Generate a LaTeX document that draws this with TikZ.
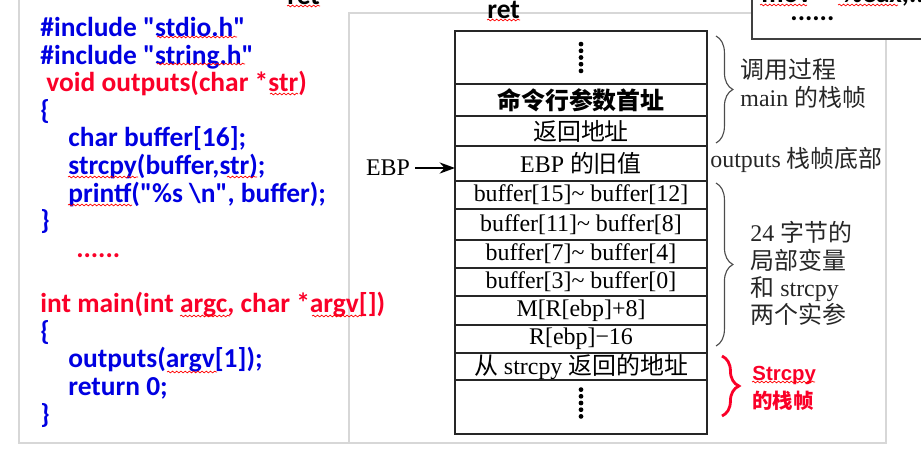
\documentclass[tikz,border=0pt]{standalone}
\usepackage{fontspec}
\setmainfont{Liberation Serif}
\newfontfamily\cjk{Noto Sans CJK SC}
\newfontfamily\codefont{Carlito}
\newfontfamily\sansfont{Liberation Sans}
\usetikzlibrary{arrows,arrows.meta,positioning,calc,decorations.pathreplacing,decorations.pathmorphing}
\definecolor{codeblue}{RGB}{0,0,225}
\definecolor{codered}{RGB}{250,0,40}
\definecolor{panel}{RGB}{215,215,215}
\newcommand{\px}{0.025cm}
\newcommand{\ind}{\hspace*{19.9pt}}

\begin{document}
\begin{tikzpicture}[x=\px,y=-\px,>={Stealth[length=11pt,width=8pt]},semithick]
		\tikzstyle{cell}=[draw=black!85,line width=1pt,minimum width=252*\px,inner sep=0pt,outer sep=0pt,font=\fontsize{17}{20}\selectfont]
		\tikzstyle{code}=[inner sep=0pt,align=left,text=codeblue,font=\codefont\bfseries\fontsize{19.5}{19.6}\selectfont]
		\tikzstyle{note}=[inner sep=0pt,align=left,text=black!85,font=\fontsize{17}{19.4}\selectfont]
		\tikzstyle{rednote}=[inner sep=0pt,align=left,text=codered,font=\sansfont\bfseries\fontsize{14.5}{19.8}\selectfont]
		\tikzstyle{frame brace}=[decorate,decoration={brace,amplitude=12pt},draw=black!70,line width=0.8pt]
		\tikzstyle{red brace}=[decorate,decoration={brace,amplitude=12pt},draw=codered,line width=2pt]
		\tikzstyle{wavy}=[draw=red,line width=0.5pt,decorate,decoration={snake,segment length=3pt,amplitude=0.6pt}]
		
		\useasboundingbox (0,0) rectangle (921,469);
		
		% panel edges
		\draw[panel,line width=0.8pt] (19,0) -- (19,443) -- (886,443) -- (886,39);
		\draw[panel,line width=0.8pt] (349,443) -- (349,13) -- (752,13);
		\draw[black!75,line width=1pt] (752,-5) -- (752,39) -- (925,39);
		
		% source code
		\node[code,anchor=north west] (head) at (40,17) {\#include "stdio.h"\\
			\#include "string.h"\\
			\hspace*{4.3pt}{\color{codered}void outputs(char *str)}\\
			\{\\
			\ind char buffer[16];\\
			\ind strcpy(buffer,str);\\
			\ind printf("\%s \textbackslash n", buffer);\\
			\}\\
			\hspace*{25.5pt}{\color{codered}......}};
		\node[code,anchor=north west] (mainfn) at (40,292) {{\color{codered}int main(int argc, char *argv[])}\\
			\{\\
			\ind outputs(argv[1]);\\
			\ind return 0;\\
			\}};
		
		\node[code,text=black,anchor=base west] (ret0) at (287,4) {ret};
		\node[code,text=black,anchor=base west] (ret1) at (487,18) {ret};
		\node[code,text=black,anchor=base west] (mov) at (761,2) {mov\hspace{22pt}\%eax,...};
		\node[code,text=black,anchor=base west] (more) at (790,20) {......};
		
		% stack
		\node[cell,minimum height=53*\px,anchor=north] (top) at (581,31) {};
		\node[cell,minimum height=32*\px,below=0pt of top] (args) {\cjk\bfseries 命令行参数首址};
		\node[cell,minimum height=30*\px,below=0pt of args] (back) {\cjk 返回地址};
		\node[cell,minimum height=35*\px,below=0pt of back] (old) {EBP {\cjk 的旧值}};
		\node[cell,minimum height=28*\px,below=0pt of old] (b15) {buffer[15]\textasciitilde\ buffer[12]};
		\node[cell,minimum height=31*\px,below=0pt of b15] (b11) {buffer[11]\textasciitilde\ buffer[8]};
		\node[cell,minimum height=28*\px,below=0pt of b11] (b7) {buffer[7]\textasciitilde\ buffer[4]};
		\node[cell,minimum height=28*\px,below=0pt of b7] (b3) {buffer[3]\textasciitilde\ buffer[0]};
		\node[cell,minimum height=29*\px,below=0pt of b3] (arg2) {M[R[ebp]+8]};
		\node[cell,minimum height=28*\px,below=0pt of arg2] (arg1) {R[ebp]−16};
		\node[cell,minimum height=27*\px,below=0pt of arg1] (sret) {{\cjk 从} strcpy {\cjk 返回的地址}};
		\node[cell,minimum height=54*\px,below=0pt of sret] (bottom) {};
		
		\foreach \k in {-2,...,2}
		{
			\fill ($(top.center)+(0,\k*6.7)$) circle (1.7pt);
			\fill ($(bottom.center)+(0,\k*6.7-4)$) circle (1.7pt);
		}
		
		\node[font=\fontsize{17}{20}\selectfont] (ebp) at (388,168) {EBP};
		\draw[->,line width=1pt] (ebp.east) -- (ebp.east -| old.west);
		
		% frames
		\coordinate (m1) at (716,36);
		\coordinate (m2) at (716,143);
		\coordinate (l1) at (716,183);
		\coordinate (l2) at (716,346);
		\coordinate (s1) at (722,356);
		\coordinate (s2) at (722,416);
		\draw[frame brace] (m1) -- (m2);
		\draw[frame brace] (l1) -- (l2);
		\draw[red brace] (s1) -- (s2);
		
		\node[note,anchor=west] (mainlbl) at (740,83.5) {{\cjk 调用过程}\\main {\cjk 的栈帧}};
		\node[note,anchor=west] (baselbl) at (710,160) {outputs {\cjk 栈帧底部}};
		\node[note,anchor=west] (loclbl) at (750,273.5) {24 {\cjk 字节的}\\{\cjk 局部变量}\\{\cjk 和} strcpy\\{\cjk 两个实参}};
		\node[rednote,anchor=west] (strlbl) at (752,388) {Strcpy\\{\cjk\bfseries 的栈帧}};
		
		% spell marks
		\draw[wavy] (157,37) -- (237,37);
		\draw[wavy] (157,64) -- (245,64);
		\draw[wavy] (270,94) -- (298,94);
		\draw[wavy] (68,177) -- (138,177);
		\draw[wavy] (227,177) -- (257,177);
		\draw[wavy] (68,205) -- (132,205);
		\draw[wavy] (180,316) -- (230,316);
		\draw[wavy] (312,316) -- (362,316);
		\draw[wavy] (167,372) -- (217,372);
		\draw[wavy] (287,6) -- (320,6);
		\draw[wavy] (487,20) -- (520,20);
		\draw[wavy] (760,5) -- (807,5);
		\draw[wavy] (838,5) -- (898,5);
		\draw[wavy] (752,382) -- (815,382);
\end{tikzpicture}
\end{document}
